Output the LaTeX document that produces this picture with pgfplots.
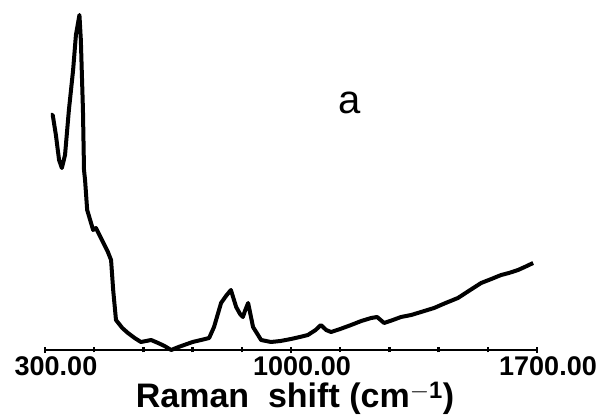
\documentclass[border=0pt]{standalone}
\usepackage{fontspec}
\setmainfont{Liberation Sans}
\usepackage{pgfplots}
\pgfplotsset{compat=1.18}
\begin{document}
\begin{tikzpicture}[x=1pt,y=1pt]
\useasboundingbox (-45,-67) rectangle (552,350);
\begin{axis}[
  at={(0pt,0pt)}, anchor=south west,
  scale only axis, width=492pt, height=335pt,
  xmin=300, xmax=1700, ymin=0, ymax=335,
  clip=false,
  axis y line=none, axis x line=bottom,
  x axis line style={-, line width=2.5pt},
  xtick={300,1000,1700},
  minor xtick={440,580,720,860,1140,1280,1420,1560},
  xticklabels={300.00,1000.00,1700.00},
  tick align=center, major tick length=6pt, minor tick length=5pt,
  every tick/.style={line width=2.5pt, black},
  /pgf/number format/assume math mode=true,
  xticklabel style={font=\fontsize{27}{29}\selectfont\bfseries, yshift=0pt, xshift=11pt},
  xlabel={Raman\ \ shift (cm$^{\mathbf{-1}}$)},
  xlabel style={font=\fontsize{34}{36}\selectfont\bfseries, yshift=0pt, xshift=4pt},
]
\addplot[black, line width=4pt, line join=round] coordinates {
(317,235) (322,235) (331,215) (340,190) (348,182) (357,195) (368,240) (380,280)
(388,315) (398,335) (402,310) (408,240) (411,180) (414,170) (420,140) (437,120)
(445,122) (455,115) (465,108) (479,98) (488,90) (494,60) (502,30) (520,22) (536,17)
(555,12) (573,8) (602,10) (622,7) (640,4) (659,0) (680,3) (696,5) (720,8) (744,10)
(767,12) (781,23) (801,47) (815,54) (829,60) (836,52) (844,43) (855,36) (863,33)
(870,40) (878,47) (885,35) (892,23) (915,10) (943,8) (970,9) (1000,11) (1025,13)
(1048,15) (1070,20) (1085,25) (1100,20) (1114,18) (1140,21) (1171,25) (1200,29)
(1228,32) (1245,33) (1265,27) (1290,30) (1313,33) (1342,35) (1370,38) (1407,42)
(1440,47) (1475,52) (1510,60) (1541,67) (1570,71) (1598,75) (1620,77) (1646,80)
(1665,83) (1689,87)
};
\node[font=\fontsize{40}{42}\selectfont, anchor=base] at (axis cs:1168,236) {a};
\end{axis}
\end{tikzpicture}
\end{document}
